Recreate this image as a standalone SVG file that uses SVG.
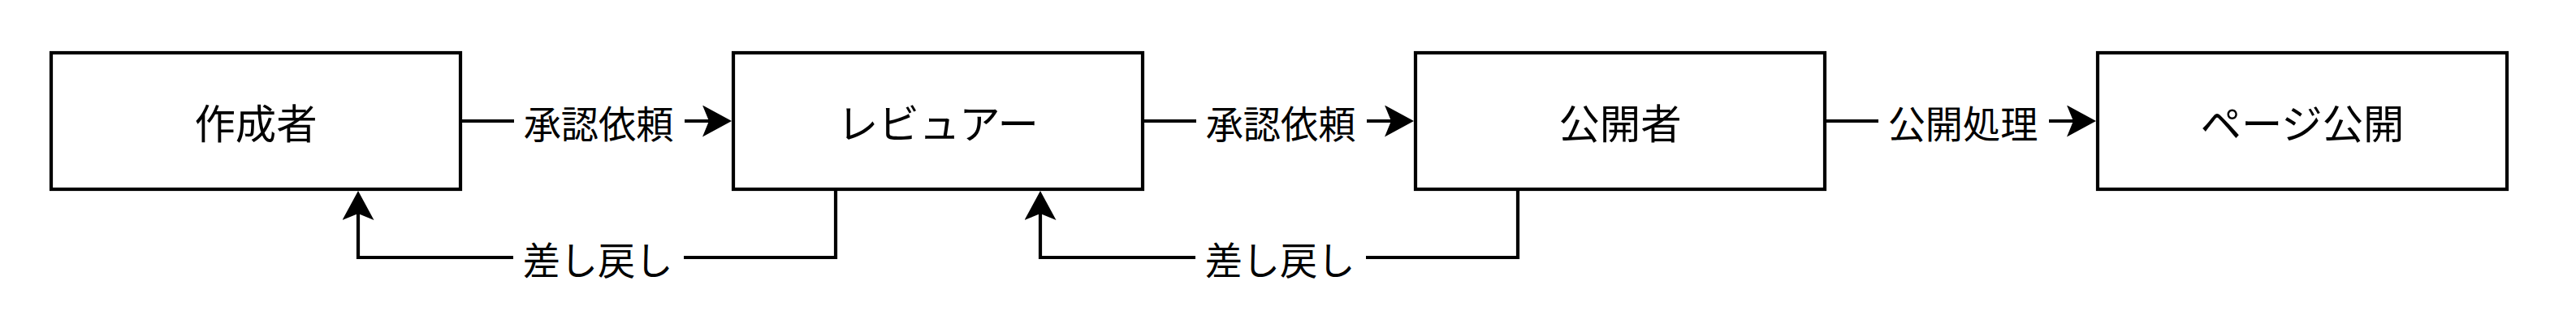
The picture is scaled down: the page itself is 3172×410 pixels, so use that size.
<svg xmlns="http://www.w3.org/2000/svg" width="3172" height="410" viewBox="0 0 3172 410">
<style>
.box{fill:#fff;stroke:#000;stroke-width:4.2}
.edge{fill:none;stroke:#000;stroke-width:4.2}
.nt{font-family:"Noto Sans CJK JP","Noto Sans",sans-serif;font-size:50.4px;fill:#000;text-anchor:middle;dominant-baseline:central}
.lt{font-family:"Noto Sans CJK JP","Noto Sans",sans-serif;font-size:46.2px;fill:#000;text-anchor:middle;dominant-baseline:central}
.lb{fill:#fff;stroke:none}
</style>
<defs>
<marker id="arr" markerUnits="userSpaceOnUse" viewBox="0 0 36 39" markerWidth="36" markerHeight="39" refX="8" refY="19.5" orient="auto">
<path d="M36,19.5 L0,0 L8,19.5 L0,39 Z" fill="#000"/>
</marker>
</defs>
<rect width="3172" height="410" fill="#fff"/>
<g id="edges">
<path class="edge" d="M567.3,149 H873" marker-end="url(#arr)"/>
<path class="edge" d="M1407.3,149 H1713" marker-end="url(#arr)"/>
<path class="edge" d="M2247.3,149 H2553" marker-end="url(#arr)"/>
<path class="edge" d="M1029,233 V317 H441 V263" marker-end="url(#arr)"/>
<path class="edge" d="M1869,233 V317 H1281 V263" marker-end="url(#arr)"/>
<rect class="lb" x="633" y="124" width="210" height="50"/>
<text class="lt" x="737" y="149">承認依頼</text>
<rect class="lb" x="1473" y="124" width="210" height="50"/>
<text class="lt" x="1577" y="149">承認依頼</text>
<rect class="lb" x="2313" y="124" width="210" height="50"/>
<text class="lt" x="2417" y="149">公開処理</text>
<rect class="lb" x="632" y="292" width="210" height="50"/>
<text class="lt" x="736" y="317">差し戻し</text>
<rect class="lb" x="1472" y="292" width="210" height="50"/>
<text class="lt" x="1576" y="317">差し戻し</text>
</g>
<g id="n1"><rect class="box" x="63" y="65" width="504" height="168"/><text class="nt" x="315" y="149">作成者</text></g>
<g id="n2"><rect class="box" x="903" y="65" width="504" height="168"/><text class="nt" x="1155" y="149">レビュアー</text></g>
<g id="n3"><rect class="box" x="1743" y="65" width="504" height="168"/><text class="nt" x="1995" y="149">公開者</text></g>
<g id="n4"><rect class="box" x="2583" y="65" width="504" height="168"/><text class="nt" x="2835" y="149">ページ公開</text></g>
</svg>
